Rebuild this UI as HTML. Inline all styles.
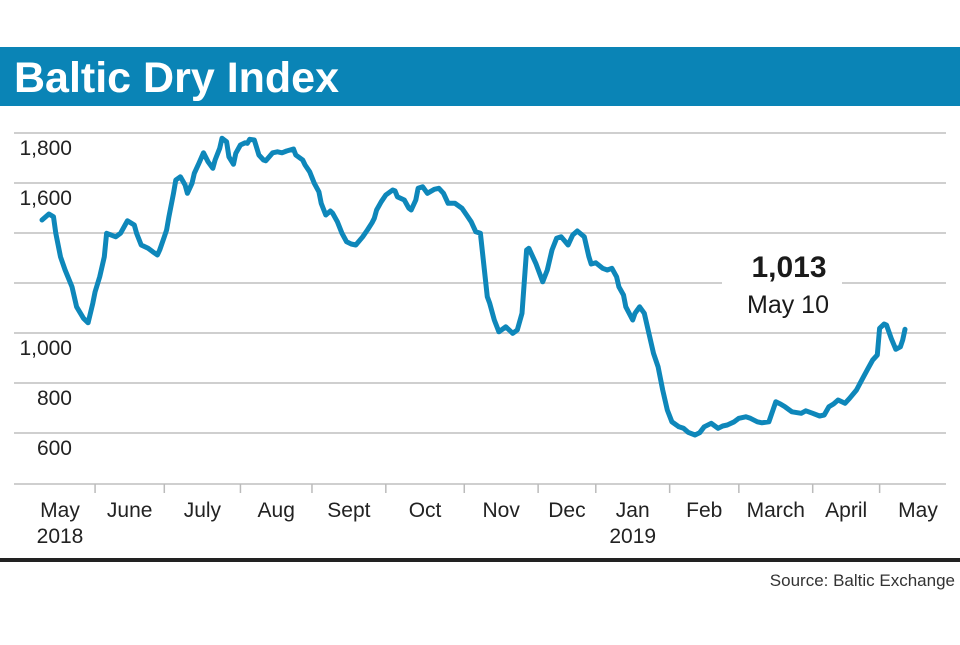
<!DOCTYPE html>
<html><head><meta charset="utf-8"><style>
body{margin:0;background:#fff;width:960px;height:640px;overflow:hidden;font-family:"Liberation Sans",sans-serif}
</style></head><body>
<svg width="960" height="640" viewBox="0 0 960 640">
<rect x="0" y="47" width="960" height="59" fill="#0a84b6"/>
<text x="14" y="92" font-size="43" font-weight="bold" fill="#fff">Baltic Dry Index</text>
<g id="grid"></g>
<g id="yl"></g>
<g id="xl"></g>
<rect x="722" y="276" width="120" height="14" fill="#fff"/>
<path id="line" fill="none" stroke="#0e87ba" stroke-width="5" stroke-linejoin="round" stroke-linecap="round"/>
<text x="789" y="277" font-size="30" font-weight="bold" text-anchor="middle" fill="#1a1a1a">1,013</text>
<text x="788" y="313" font-size="25" text-anchor="middle" fill="#1a1a1a">May 10</text>
<rect x="0" y="558" width="960" height="4" fill="#222"/>
<text x="955" y="586" font-size="17" text-anchor="end" fill="#333">Source: Baltic Exchange</text>
</svg>
<script>
const yTicks=[600,800,1000,1200,1400,1600,1800];
const yLabels=["600","800","1,000","","","1,600","1,800"];
const monthLabels=["May","June","July","Aug","Sept","Oct","Nov","Dec","Jan","Feb","March","April","May"];
const yearLabels=["2018","","","","","","","","2019","","","",""];
const monthTickDays=[23,53,86,117,149,183,215,240,272,302,334,363];
const days=[0,3,5,6,8,10,13,15,18,20,22,23,25,27,28,32,34,36,37,40,41,43,46,48,50,51,53,54,55,57,58,60,62,63,65,66,68,70,72,74,75,77,78,80,81,83,84,86,88,89,90,92,94,96,97,100,102,104,106,109,110,113,114,116,118,120,121,123,125,126,128,130,132,134,136,139,141,143,144,145,147,149,152,153,154,157,159,160,162,163,165,167,170,172,174,176,179,182,184,186,188,
190,193,194,196,198,201,204,206,208,210,211,214,217,219,221,223,225,228,230,232,235,237,238,240,243,245,247,249,250,252,253,256,257,259,261,263,265,267,269,271,273,276,278,280,283,285,287,290,293,295,297,300,302,305,307,310,312,315,318,320,322,325,329,331,334,337,339,341,343,345,348,350,353,356,358,360,362,363,365,366,368,370,372,373,374];
const values=[1452,1476,1465,1399,1305,1252,1185,1105,1059,1041,1119,1165,1225,1305,1399,1385,1399,1432,1449,1432,1399,1352,1339,1325,1312,1332,1385,1412,1465,1559,1612,1625,1592,1559,1599,1639,1679,1721,1685,1659,1692,1739,1779,1765,1705,1675,1719,1752,1761,1759,1775,1772,1712,1692,1689,1721,1725,1721,1728,1736,1712,1692,1672,1645,1599,1565,1519,1472,1488,1479,1445,1399,1365,1356,1352,1385,1412,1441,1459,1492,1525,1552,1572,1569,1545,1532,1499,1492,1532,1579,1585,1559,1575,1579,1559,1519,1519,1499,1472,1445,1405,
1399,1145,1119,1052,1005,1025,999,1012,1079,1332,1339,1279,1205,1252,1332,1379,1385,1352,1392,1408,1385,1305,1276,1281,1259,1252,1259,1225,1185,1152,1105,1052,1079,1105,1079,999,919,865,772,692,645,625,619,603,592,601,625,639,619,628,632,645,659,665,659,645,641,645,725,716,705,685,679,689,679,668,672,705,716,732,719,739,772,825,859,892,912,1019,1036,1032,979,935,945,972,1015];
const xs=d=>42+d*(905-42)/374;
const ys=v=>333-(v-1000)/4;
const NS="http://www.w3.org/2000/svg";
function mk(tag,attrs,parent,txt){const e=document.createElementNS(NS,tag);for(const k in attrs)e.setAttribute(k,attrs[k]);if(txt!==undefined)e.textContent=txt;parent.appendChild(e);return e;}
const grid=document.getElementById('grid'),yl=document.getElementById('yl'),xl=document.getElementById('xl');
yTicks.forEach((t,i)=>{
  const l=mk('line',{x1:14,x2:946,y1:ys(t),y2:ys(t),stroke:'#cfcfcf','stroke-width':2},grid);
  
  
  if(yLabels[i]){const tx=mk('text',{x:72,y:ys(t)+22,'font-size':21,'text-anchor':'end',fill:'#222'},yl,yLabels[i]);
  
  }
});
const axis=mk('line',{x1:14,x2:946,y1:484,y2:484,stroke:'#cfcfcf','stroke-width':2},grid);


monthTickDays.forEach(d=>{const t=mk('line',{x1:xs(d),x2:xs(d),y1:484,y2:493,stroke:'#bbb','stroke-width':1.5},grid);

});
const bounds=[0].concat(monthTickDays,[374]);
monthLabels.forEach((m,i)=>{
  let cx;
  if(i===0)cx=60;else if(i===monthLabels.length-1)cx=918;else cx=(xs(bounds[i])+xs(bounds[i+1]))/2;
  const tx=mk('text',{x:cx,y:517,'font-size':21,'text-anchor':'middle',fill:'#222'},xl,m);
  
  
  if(yearLabels[i]){const ty=mk('text',{x:cx,y:543,'font-size':21,'text-anchor':'middle',fill:'#222'},xl,yearLabels[i]);
  
  }
});
document.getElementById('line').setAttribute('d',values.map((v,i)=>(i?'L':'M')+xs(days[i]).toFixed(1)+' '+ys(v).toFixed(1)).join(''));
</script>
</body></html>
